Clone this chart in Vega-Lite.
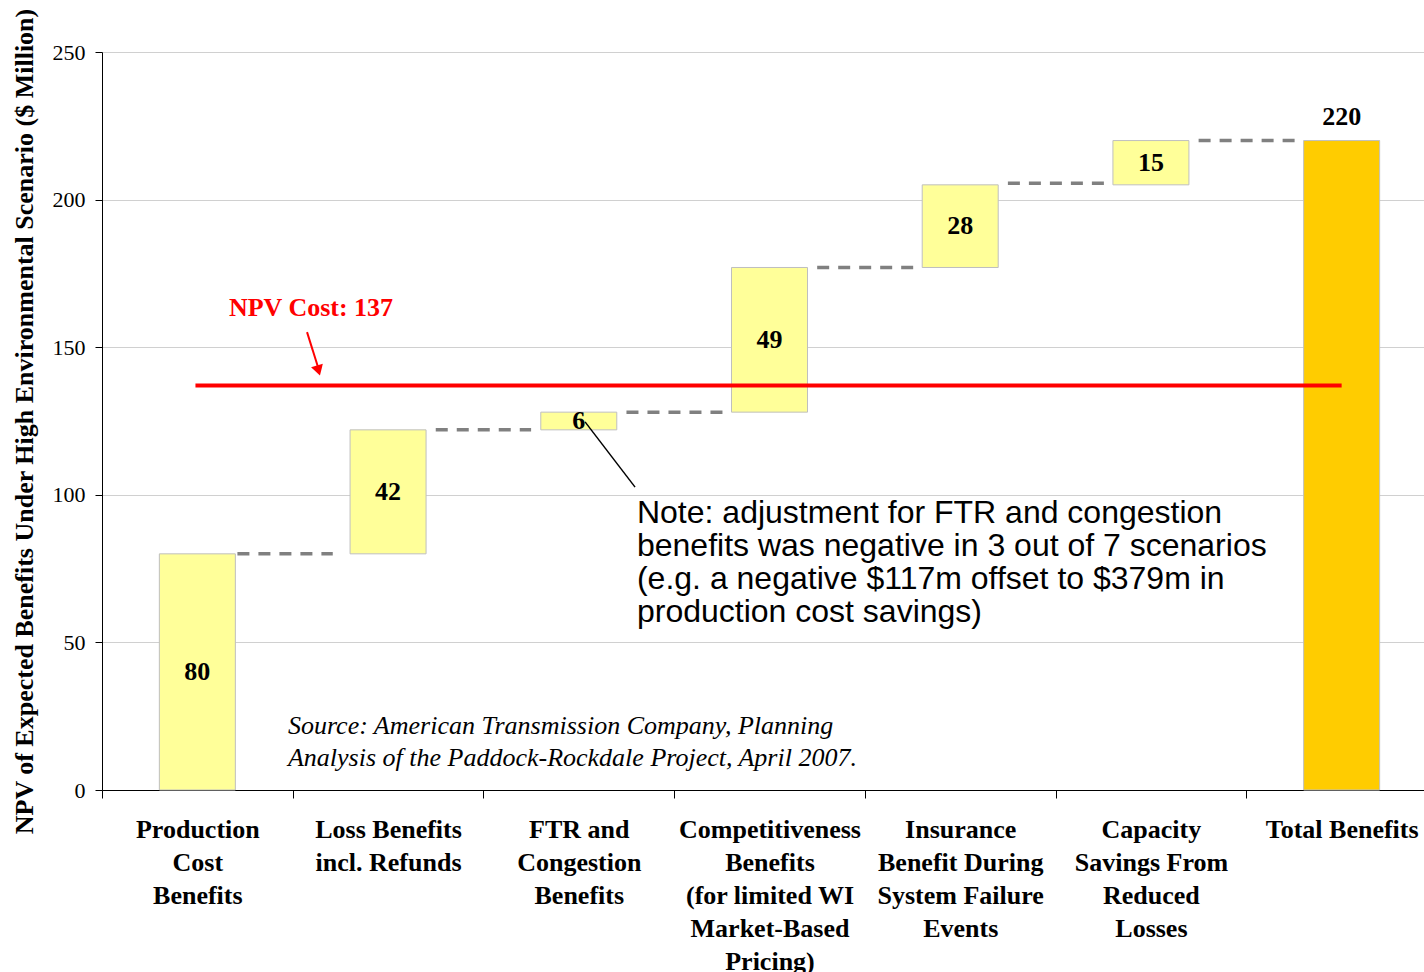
{
  "$schema": "https://vega.github.io/schema/vega-lite/v6.json",
  "width": 1322,
  "height": 738,
  "autosize": {"type": "none"},
  "padding": {"left": 102, "top": 52, "right": 0, "bottom": 182},
  "background": "white",
  "config": {"view": {"stroke": null}, "font": "Liberation Serif"},
  "datasets": {
    "bars": [
      {"idx": 0, "cat": "Production Cost Benefits", "start": 0, "end": 80, "label": "80", "kind": "step"},
      {"idx": 1, "cat": "Loss Benefits incl. Refunds", "start": 80, "end": 122, "label": "42", "kind": "step"},
      {"idx": 2, "cat": "FTR and Congestion Benefits", "start": 122, "end": 128, "label": "6", "kind": "step"},
      {"idx": 3, "cat": "Competitiveness Benefits (for limited WI Market-Based Pricing)", "start": 128, "end": 177, "label": "49", "kind": "step"},
      {"idx": 4, "cat": "Insurance Benefit During System Failure Events", "start": 177, "end": 205, "label": "28", "kind": "step"},
      {"idx": 5, "cat": "Capacity Savings From Reduced Losses", "start": 205, "end": 220, "label": "15", "kind": "step"},
      {"idx": 6, "cat": "Total Benefits", "start": 0, "end": 220, "label": "220", "kind": "total"}
    ],
    "connectors": [
      {"x1": 0.21, "x2": 0.71, "y": 80},
      {"x1": 1.25, "x2": 1.75, "y": 122},
      {"x1": 2.25, "x2": 2.77, "y": 128},
      {"x1": 3.25, "x2": 3.77, "y": 177},
      {"x1": 4.25, "x2": 4.76, "y": 205.5},
      {"x1": 5.25, "x2": 5.77, "y": 220}
    ],
    "cost": [{"x1": -0.01, "x2": 6.0, "y": 137}],
    "arrow": [{"x1": 0.575, "y1": 155.1, "x2": 0.633, "y2": 143.2}],
    "arrowhead": [{"x": 0.635, "y": 142.1}],
    "noteline": [{"x1": 2.033, "y1": 124.7, "x2": 2.295, "y2": 102.6}],
    "costlabel": [{"x": 0.596, "y": 163.3, "text": "NPV Cost: 137"}],
    "note": [{"x": 2.305, "y": 90.3, "text": "Note: adjustment for FTR and congestion\nbenefits was negative in 3 out of 7 scenarios\n(e.g. a negative $117m offset to $379m in\nproduction cost savings)"}],
    "source": [{"x": 0.475, "y": 19.0, "text": "Source: American Transmission Company, Planning\nAnalysis of the Paddock-Rockdale Project, April 2007."}]
  },
  "layer": [
    {
      "data": {"name": "bars"},
      "mark": {"type": "bar", "width": 76, "stroke": "#BFBFBF", "strokeWidth": 1},
      "encoding": {
        "x": {
          "field": "idx", "type": "quantitative",
          "scale": {"domain": [-0.5, 6.5], "range": [0, 1335], "nice": false, "zero": false, "padding": 0},
          "axis": {
            "title": null,
            "values": [-0.5, 0.5, 1.5, 2.5, 3.5, 4.5, 5.5, 6.5],
            "labelOffset": 95.35,
            "labelExpr": "datum.value > 6 ? '' : split(['Production|Cost|Benefits', 'Loss Benefits|incl. Refunds', 'FTR and|Congestion|Benefits', 'Competitiveness|Benefits|(for limited WI|Market-Based|Pricing)', 'Insurance|Benefit During|System Failure|Events', 'Capacity|Savings From|Reduced|Losses', 'Total Benefits'][round(datum.value + 0.5)], '|')",
            "labelAngle": 0, "labelAlign": "center",
            "labelFont": "Liberation Serif", "labelFontSize": 26, "labelFontWeight": "bold",
            "labelColor": "black", "labelLineHeight": 33, "labelPadding": 18, "labelBaseline": "top",
            "labelLimit": 0, "labelOverlap": false, "labelFlush": false, "tickSize": 8,
            "tickColor": "black", "domainColor": "black", "grid": false
          }
        },
        "y": {
          "field": "start", "type": "quantitative",
          "scale": {"domain": [0, 250], "nice": false},
          "axis": {
            "title": "NPV of Expected Benefits Under High Environmental Scenario ($ Million)",
            "titleFont": "Liberation Serif", "titleFontSize": 26, "titleFontWeight": "bold",
            "titleColor": "black", "titlePadding": 15,
            "labelFont": "Liberation Serif", "labelFontSize": 22, "labelColor": "black",
            "labelPadding": 10, "tickSize": 7, "tickColor": "black", "domainColor": "black",
            "values": [0, 50, 100, 150, 200, 250], "grid": true, "gridColor": "#D0D0D0",
            "gridWidth": 1, "labelFlush": false
          }
        },
        "y2": {"field": "end"},
        "color": {"field": "kind", "type": "nominal", "scale": {"domain": ["step", "total"], "range": ["#FFFF99", "#FFCC00"]}, "legend": null}
      }
    },
    {
      "data": {"name": "connectors"},
      "mark": {"type": "rule", "stroke": "#808080", "strokeWidth": 3.5, "strokeDash": [12, 9]},
      "encoding": {
        "x": {"field": "x1", "type": "quantitative", "scale": {"domain": [-0.5, 6.5], "range": [0, 1335], "nice": false, "zero": false, "padding": 0}},
        "x2": {"field": "x2"},
        "y": {"field": "y", "type": "quantitative", "scale": {"domain": [0, 250], "nice": false}}
      }
    },
    {
      "data": {"name": "bars"},
      "transform": [{"filter": "datum.kind == 'step'"}, {"calculate": "(datum.start + datum.end) / 2", "as": "mid"}],
      "mark": {"type": "text", "font": "Liberation Serif", "fontSize": 26, "fontWeight": "bold", "baseline": "middle", "align": "center", "color": "black"},
      "encoding": {
        "x": {"field": "idx", "type": "quantitative", "scale": {"domain": [-0.5, 6.5], "range": [0, 1335], "nice": false, "zero": false, "padding": 0}},
        "y": {"field": "mid", "type": "quantitative", "scale": {"domain": [0, 250], "nice": false}},
        "text": {"field": "label"}
      }
    },
    {
      "data": {"name": "bars"},
      "transform": [{"filter": "datum.kind == 'total'"}],
      "mark": {"type": "text", "font": "Liberation Serif", "fontSize": 26, "fontWeight": "bold", "baseline": "bottom", "align": "center", "dy": -11, "color": "black"},
      "encoding": {
        "x": {"field": "idx", "type": "quantitative", "scale": {"domain": [-0.5, 6.5], "range": [0, 1335], "nice": false, "zero": false, "padding": 0}},
        "y": {"field": "end", "type": "quantitative", "scale": {"domain": [0, 250], "nice": false}},
        "text": {"field": "label"}
      }
    },
    {
      "data": {"name": "cost"},
      "mark": {"type": "rule", "stroke": "#FF0000", "strokeWidth": 4},
      "encoding": {
        "x": {"field": "x1", "type": "quantitative", "scale": {"domain": [-0.5, 6.5], "range": [0, 1335], "nice": false, "zero": false, "padding": 0}},
        "x2": {"field": "x2"},
        "y": {"field": "y", "type": "quantitative", "scale": {"domain": [0, 250], "nice": false}}
      }
    },
    {
      "data": {"name": "arrow"},
      "mark": {"type": "rule", "stroke": "#FF0000", "strokeWidth": 2},
      "encoding": {
        "x": {"field": "x1", "type": "quantitative", "scale": {"domain": [-0.5, 6.5], "range": [0, 1335], "nice": false, "zero": false, "padding": 0}},
        "x2": {"field": "x2"},
        "y": {"field": "y1", "type": "quantitative", "scale": {"domain": [0, 250], "nice": false}},
        "y2": {"field": "y2"}
      }
    },
    {
      "data": {"name": "arrowhead"},
      "mark": {"type": "point", "shape": "triangle-down", "filled": true, "color": "#FF0000", "size": 150, "angle": 343.5, "opacity": 1},
      "encoding": {
        "x": {"field": "x", "type": "quantitative", "scale": {"domain": [-0.5, 6.5], "range": [0, 1335], "nice": false, "zero": false, "padding": 0}},
        "y": {"field": "y", "type": "quantitative", "scale": {"domain": [0, 250], "nice": false}}
      }
    },
    {
      "data": {"name": "noteline"},
      "mark": {"type": "rule", "stroke": "black", "strokeWidth": 1.5},
      "encoding": {
        "x": {"field": "x1", "type": "quantitative", "scale": {"domain": [-0.5, 6.5], "range": [0, 1335], "nice": false, "zero": false, "padding": 0}},
        "x2": {"field": "x2"},
        "y": {"field": "y1", "type": "quantitative", "scale": {"domain": [0, 250], "nice": false}},
        "y2": {"field": "y2"}
      }
    },
    {
      "data": {"name": "costlabel"},
      "mark": {"type": "text", "font": "Liberation Serif", "fontSize": 26, "fontWeight": "bold", "color": "#FF0000", "align": "center", "baseline": "middle"},
      "encoding": {
        "x": {"field": "x", "type": "quantitative", "scale": {"domain": [-0.5, 6.5], "range": [0, 1335], "nice": false, "zero": false, "padding": 0}},
        "y": {"field": "y", "type": "quantitative", "scale": {"domain": [0, 250], "nice": false}},
        "text": {"field": "text"}
      }
    },
    {
      "data": {"name": "note"},
      "mark": {"type": "text", "font": "Liberation Sans", "fontSize": 32, "color": "black", "align": "left", "baseline": "alphabetic", "lineBreak": "\n", "lineHeight": 33},
      "encoding": {
        "x": {"field": "x", "type": "quantitative", "scale": {"domain": [-0.5, 6.5], "range": [0, 1335], "nice": false, "zero": false, "padding": 0}},
        "y": {"field": "y", "type": "quantitative", "scale": {"domain": [0, 250], "nice": false}},
        "text": {"field": "text"}
      }
    },
    {
      "data": {"name": "source"},
      "mark": {"type": "text", "font": "Liberation Serif", "fontSize": 26, "fontStyle": "italic", "color": "black", "align": "left", "baseline": "alphabetic", "lineBreak": "\n", "lineHeight": 32},
      "encoding": {
        "x": {"field": "x", "type": "quantitative", "scale": {"domain": [-0.5, 6.5], "range": [0, 1335], "nice": false, "zero": false, "padding": 0}},
        "y": {"field": "y", "type": "quantitative", "scale": {"domain": [0, 250], "nice": false}},
        "text": {"field": "text"}
      }
    }
  ]
}
